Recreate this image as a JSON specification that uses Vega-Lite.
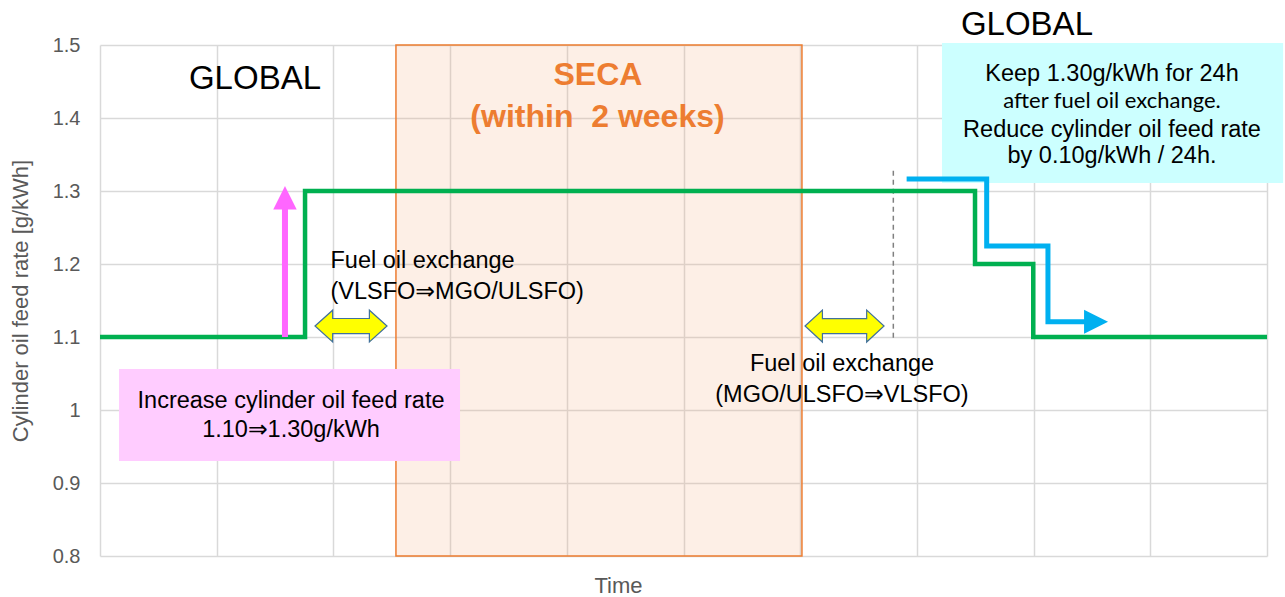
{
  "$schema": "https://vega.github.io/schema/vega-lite/v6.json",
  "width": 1167,
  "height": 511,
  "autosize": {"type": "none"},
  "padding": {"left": 100, "top": 45, "right": 18, "bottom": 41},
  "background": "white",
  "config": {
    "view": {"stroke": null},
    "axis": {
      "gridColor": "#D9D9D9",
      "gridWidth": 1.5,
      "domain": false,
      "ticks": false,
      "tickSize": 0,
      "labelFont": "Liberation Sans",
      "titleFont": "Liberation Sans",
      "labelColor": "#595959",
      "titleColor": "#595959",
      "titleFontWeight": "normal"
    }
  },
  "datasets": {
    "seca": [{"x": 2.536, "x2": 6.015, "y": 0.8, "y2": 1.5}],
    "pinkbox": [{"x": 0.163, "x2": 3.085, "y": 0.93, "y2": 1.0562}],
    "cyanbox": [{"x": 7.215, "x2": 10.138, "y": 1.311, "y2": 1.5027}],
    "dash": [{"x": 6.798, "y": 1.099, "y2": 1.333}],
    "green": [
      {"x": 0, "y": 1.1},
      {"x": 1.757, "y": 1.3},
      {"x": 7.498, "y": 1.2},
      {"x": 7.997, "y": 1.1},
      {"x": 10, "y": 1.1}
    ],
    "blue": [
      {"x": 6.912, "y": 1.3164},
      {"x": 7.598, "y": 1.2247},
      {"x": 8.123, "y": 1.121},
      {"x": 8.45, "y": 1.121}
    ],
    "bluehead": [{"x": 8.535, "y": 1.121}],
    "pinkshaft": [{"x": 1.585, "y": 1.1, "y2": 1.276}],
    "pinkhead": [{"x": 1.585, "y": 1.2908}],
    "yellowA": [{"x": 2.151, "y": 1.115}],
    "yellowB": [{"x": 6.38, "y": 1.115}],
    "tGlobal": [
      {"x": 1.328, "y": 1.4397, "t": "GLOBAL"},
      {"x": 7.943, "y": 1.5137, "t": "GLOBAL"}
    ],
    "tSeca": [
      {"x": 4.267, "y": 1.4452, "t": "SECA"},
      {"x": 4.263, "y": 1.3877, "t": "(within\u00a0 2 weeks)"}
    ],
    "tLeft": [
      {"x": 1.975, "y": 1.1945, "t": "Fuel oil exchange"},
      {"x": 1.975, "y": 1.152, "t": "(VLSFO⇒MGO/ULSFO)"}
    ],
    "tCenter": [
      {"x": 6.358, "y": 1.0538, "t": "Fuel oil exchange"},
      {"x": 6.358, "y": 1.0114, "t": "(MGO/ULSFO⇒VLSFO)"},
      {"x": 1.637, "y": 1.0027, "t": "Increase cylinder oil feed rate"},
      {"x": 1.637, "y": 0.963, "t": "1.10⇒1.30g/kWh"},
      {"x": 8.672, "y": 1.4507, "t": "Keep 1.30g/kWh for 24h"},
      {"x": 8.672, "y": 1.374, "t": "Reduce cylinder oil feed rate"},
      {"x": 8.672, "y": 1.3384, "t": "by 0.10g/kWh / 24h."}
    ],
    "tCal": [
      {"x": 8.672, "y": 1.4137, "t": "after fuel oil exchange."}
    ]
  },
  "encoding": {
    "x": {
      "field": "x",
      "type": "quantitative",
      "scale": {"domain": [0, 10], "nice": false, "zero": false},
      "axis": {
        "values": [0, 1, 2, 3, 4, 5, 6, 7, 8, 9, 10],
        "labels": false,
        "grid": true,
        "title": "Time",
        "titleFontSize": 22,
        "titlePadding": 19,
        "titleX": 518
      }
    },
    "y": {
      "field": "y",
      "type": "quantitative",
      "scale": {"domain": [0.8, 1.5], "nice": false, "zero": false},
      "axis": {
        "values": [0.8, 0.9, 1, 1.1, 1.2, 1.3, 1.4, 1.5],
        "format": "~g",
        "labelFontSize": 20,
        "labelPadding": 20,
        "grid": true,
        "title": "Cylinder oil feed rate [g/kWh]",
        "titleFontSize": 22,
        "titlePadding": 20
      }
    }
  },
  "layer": [
    {
      "data": {"name": "seca"},
      "mark": {"type": "rect", "fill": "#F4B183", "fillOpacity": 0.2, "stroke": "#ED7D31", "strokeWidth": 1.5},
      "encoding": {"x2": {"field": "x2"}, "y2": {"field": "y2"}}
    },
    {
      "data": {"name": "pinkbox"},
      "mark": {"type": "rect", "fill": "#FFCCFF"},
      "encoding": {"x2": {"field": "x2"}, "y2": {"field": "y2"}}
    },
    {
      "data": {"name": "cyanbox"},
      "mark": {"type": "rect", "fill": "#CCFFFF"},
      "encoding": {"x2": {"field": "x2"}, "y2": {"field": "y2"}}
    },
    {
      "data": {"name": "dash"},
      "mark": {"type": "rule", "stroke": "#808080", "strokeWidth": 1.5, "strokeDash": [5, 4]},
      "encoding": {"y2": {"field": "y2"}}
    },
    {
      "data": {"name": "green"},
      "mark": {"type": "line", "interpolate": "step-after", "stroke": "#00B050", "strokeWidth": 4.5, "strokeJoin": "miter", "strokeCap": "butt"},
      "encoding": {}
    },
    {
      "data": {"name": "blue"},
      "mark": {"type": "line", "interpolate": "step-after", "stroke": "#00B0F0", "strokeWidth": 5, "strokeJoin": "miter", "strokeCap": "butt"},
      "encoding": {}
    },
    {
      "data": {"name": "bluehead"},
      "mark": {"type": "point", "shape": "M 1 0 L -1 -1 L -1 1 Z", "size": 576, "filled": true, "fill": "#00B0F0", "opacity": 1, "strokeWidth": 0}
    },
    {
      "data": {"name": "pinkshaft"},
      "mark": {"type": "rule", "stroke": "#FF66FF", "strokeWidth": 6},
      "encoding": {"y2": {"field": "y2"}}
    },
    {
      "data": {"name": "pinkhead"},
      "mark": {"type": "point", "shape": "M 0 -1 L 1 1 L -1 1 Z", "size": 548, "filled": true, "fill": "#FF66FF", "opacity": 1, "strokeWidth": 0}
    },
    {
      "data": {"name": "yellowA"},
      "mark": {"type": "point", "shape": "M -1 0 L -0.51 -0.44 L -0.51 -0.21 L 0.51 -0.21 L 0.51 -0.44 L 1 0 L 0.51 0.44 L 0.51 0.21 L -0.51 0.21 L -0.51 0.44 Z", "size": 5184, "filled": true, "fill": "#FFFF00", "stroke": "#41719C", "strokeWidth": 1.2, "opacity": 1}
    },
    {
      "data": {"name": "yellowB"},
      "mark": {"type": "point", "shape": "M -1 0 L -0.56 -0.405 L -0.56 -0.19 L 0.56 -0.19 L 0.56 -0.405 L 1 0 L 0.56 0.405 L 0.56 0.19 L -0.56 0.19 L -0.56 0.405 Z", "size": 6241, "filled": true, "fill": "#FFFF00", "stroke": "#41719C", "strokeWidth": 1.2, "opacity": 1}
    },
    {
      "data": {"name": "tGlobal"},
      "mark": {"type": "text", "align": "center", "baseline": "alphabetic", "font": "Liberation Sans, Arial, DejaVu Sans", "fontSize": 33, "color": "#000000"},
      "encoding": {"text": {"field": "t"}}
    },
    {
      "data": {"name": "tSeca"},
      "mark": {"type": "text", "align": "center", "baseline": "alphabetic", "font": "Liberation Sans, Arial, DejaVu Sans", "fontSize": 32, "fontWeight": "bold", "color": "#ED7D31"},
      "encoding": {"text": {"field": "t"}}
    },
    {
      "data": {"name": "tLeft"},
      "mark": {"type": "text", "align": "left", "baseline": "alphabetic", "font": "Liberation Sans, Arial, DejaVu Sans", "fontSize": 23.5, "color": "#000000"},
      "encoding": {"text": {"field": "t"}}
    },
    {
      "data": {"name": "tCenter"},
      "mark": {"type": "text", "align": "center", "baseline": "alphabetic", "font": "Liberation Sans, Arial, DejaVu Sans", "fontSize": 23.5, "color": "#000000"},
      "encoding": {"text": {"field": "t"}}
    },
    {
      "data": {"name": "tCal"},
      "mark": {"type": "text", "align": "center", "baseline": "alphabetic", "font": "Lato, Open Sans, sans-serif", "fontSize": 22, "color": "#000000"},
      "encoding": {"text": {"field": "t"}}
    }
  ]
}
